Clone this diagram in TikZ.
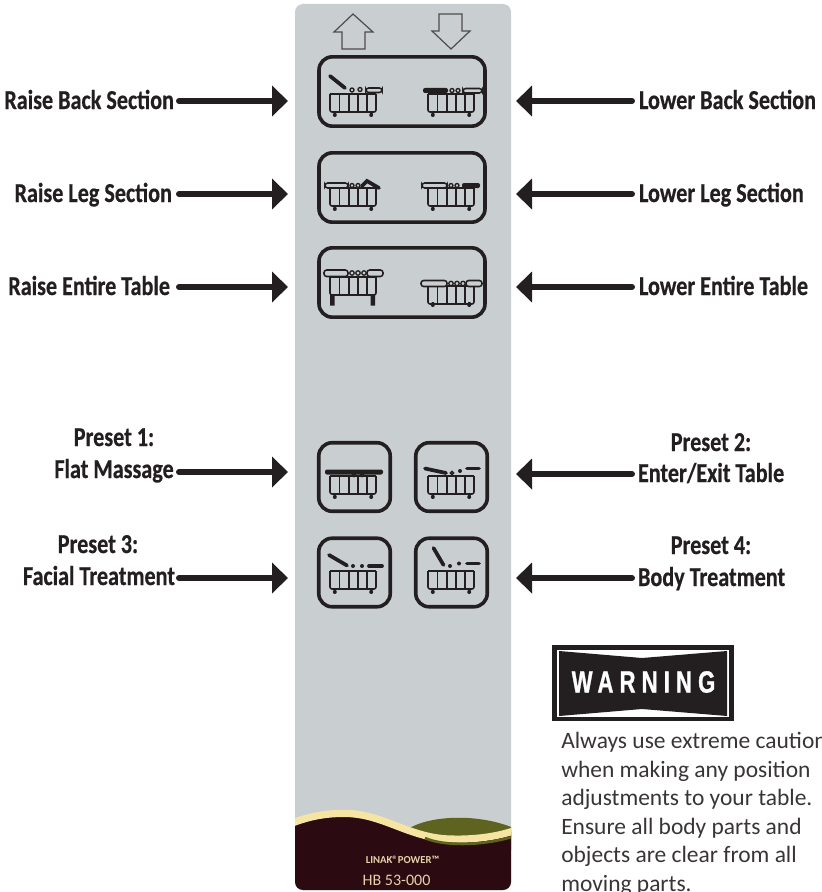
\documentclass[tikz,border=0pt]{standalone}
\usepackage{fontspec}
\setmainfont{Carlito}
\newfontfamily\labelfont[FakeStretch=0.81,FakeBold=0.5]{Carlito}
\newfontfamily\warnfont[FakeStretch=0.72,LetterSpace=20,FakeBold=1]{Liberation Sans}
\usetikzlibrary{arrows.meta}
\definecolor{panelgray}{HTML}{C9CED1}
\definecolor{ink}{HTML}{231F20}
\definecolor{burgundy}{HTML}{2B0A12}
\definecolor{cream}{HTML}{F6E4A2}
\definecolor{olive}{HTML}{5E6420}
\definecolor{tan}{HTML}{E6D2A6}
\tikzset{
	lbl/.style={font=\labelfont\bfseries\fontsize{20.5}{22}\selectfont, text=ink, text height=12pt, text depth=0pt, inner ysep=0pt, outer sep=0pt},
	pointer/.style={draw=ink, line width=4.5pt, line cap=round, -{Triangle[length=12pt,width=22.5pt]}},
	btn/.style={draw=ink, line width=2.7pt, rounded corners=10pt, inner sep=0pt},
	btnwide/.style={btn, minimum width=124.5pt, minimum height=52pt},
	btnsmall/.style={btn, minimum width=53.6pt, minimum height=51.4pt},
	updown/.style={draw=ink!80, line width=0.9pt},
	bedline/.style={draw=ink, line width=1.15pt},
	padw/.style={draw=ink, fill=panelgray, line width=1.15pt, rounded corners=2pt},
	padb/.style={fill=ink, rounded corners=1.5pt},
	seg/.style={draw=ink, line width=2.8pt, line cap=round},
	joint/.style={draw=ink, line width=1pt},
}
% table base, y is the top of the frame
\newcommand{\bedframe}[2]{
	\begin{scope}[shift={(#1,#2)}]
		\draw[bedline, rounded corners=1.5pt] (0,0) -- (0,18) -- (46,18) -- (46,0);
		\draw[bedline] (0,0) -- (46,0);
		\draw[bedline] (9.5,0) -- (9.5,18) (19,0) -- (19,18) (28,0) -- (28,18) (37,0) -- (37,18);
	\end{scope}
}
\newcommand{\bedwheels}[2]{
	\begin{scope}[shift={(#1,#2)}]
		\fill[ink] (3.5,18) rectangle (6,21) (40,18) rectangle (42.5,21);
		\fill[ink] (4.8,21) circle[radius=2] (41.2,21) circle[radius=2];
	\end{scope}
}

\begin{document}
\begin{tikzpicture}[x=0.75pt,y=-0.75pt]
	\useasboundingbox (0,0) rectangle (821,892);
	\clip (0,0) rectangle (821,892);

	% panel
	\fill[panelgray] (295,4) [rounded corners=6pt] -- (511,4) -- (511,890) -- (295,890) -- cycle;
	\begin{scope}
		\clip[rounded corners=6pt] (295,4) -- (511,4) -- (511,890) -- (295,890) -- cycle;
		\fill[olive] (408,829) .. controls (430,815) and (480,813) .. (516,829) -- (516,850) -- (440,850) -- cycle;
		\draw[cream, fill=burgundy, line width=5.4pt] (285,826) .. controls (310,815) and (330,813) .. (348,813.5) .. controls (385,815) and (410,838) .. (450,839) .. controls (480,840) and (505,835) .. (521,828) -- (521,900) -- (285,900) -- cycle;
		\draw[olive, line width=2pt] (425,838) .. controls (442,846) and (485,847) .. (521,834);
	\end{scope}
	\node[text=tan, font=\bfseries\fontsize{8}{9}\selectfont, inner sep=0pt] (model) at (402.5,860) {LINAK®POWER™};
	\node[text=tan, font=\fontsize{12}{14}\selectfont, inner sep=0pt] (code) at (396.5,880) {HB 53-000};

	% up and down
	\draw[updown] (353,14) -- (373,32) -- (365,32) -- (365,49) -- (342,49) -- (342,32) -- (334,32) -- cycle;
	\draw[updown] (439,14) -- (462,14) -- (462,31) -- (470,31) -- (451,49) -- (432,31) -- (439,31) -- cycle;

	% buttons
	\node[btnwide] (backbtn) at (402,91.5) {};
	\node[btnwide] (legbtn) at (402,187.5) {};
	\node[btnwide] (entirebtn) at (402,282.5) {};
	\node[btnsmall] (flatbtn) at (354.5,477) {};
	\node[btnsmall] (enterbtn) at (451.5,477) {};
	\node[btnsmall] (facialbtn) at (354.5,572.5) {};
	\node[btnsmall] (bodybtn) at (451.5,572.5) {};

	% raise back
	\bedframe{330}{94}
	\bedwheels{330}{94}
	\draw[seg] (330,76) -- (345,88);
	\draw[joint] (352,90) circle[radius=2] (360,89.5) circle[radius=2];
	\draw[padw] (366,88) rectangle (382,92.5);
	% lower back
	\bedframe{428}{94}
	\bedwheels{428}{94}
	\fill[padb] (423,88) rectangle (448,93);
	\draw[joint] (452,90.5) circle[radius=2] (458,90.5) circle[radius=2];
	\draw[padw] (463,88.5) rectangle (482,93);

	% raise leg
	\bedframe{330}{188}
	\bedwheels{330}{188}
	\draw[padw] (325,183) rectangle (348,188);
	\draw[joint] (352,185.5) circle[radius=2] (358,185.5) circle[radius=2];
	\draw[seg] (362,186) -- (367,181) -- (379,188);
	% lower leg
	\bedframe{428}{188}
	\bedwheels{428}{188}
	\draw[padw] (422,183) rectangle (447,188);
	\draw[joint] (451,185.5) circle[radius=2] (457,185.5) circle[radius=2];
	\fill[padb] (462,183) rectangle (480,188);

	% raise entire
	\bedframe{330}{277}
	\fill[ink] (330,295) rectangle (334.5,305.5) (370.5,295) rectangle (375,305.5);
	\draw[padw] (324,270) rectangle (348,276.5);
	\draw[joint] (352,273) circle[radius=2.2] (358,273) circle[radius=2.2] (364,273) circle[radius=2.2];
	\draw[padw] (367,270) rectangle (383,276.5);
	% lower entire
	\bedframe{428}{286}
	\bedwheels{428}{284}
	\draw[padw] (421,280.5) rectangle (447,286.5);
	\draw[joint] (451,283.5) circle[radius=2.2] (457,283.5) circle[radius=2.2] (463,283.5) circle[radius=2.2];
	\draw[padw] (466,280.5) rectangle (482,286.5);

	% flat
	\bedframe{330}{476}
	\bedwheels{330}{476}
	\fill[padb] (325,469.5) rectangle (383,474.5);
	\draw[joint] (354,475) circle[radius=1.6] (362,475) circle[radius=1.6];
	% enter and exit
	\bedframe{428}{476}
	\bedwheels{428}{476}
	\draw[seg] (425,468.5) -- (446,473);
	\draw[joint] (452,473) circle[radius=1.6];
	\fill[ink] (460,471) circle[radius=2];
	\draw[seg] (467,468.5) -- (479,468.5);

	% facial
	\bedframe{330}{571}
	\bedwheels{330}{571}
	\draw[seg] (329,555) -- (347,565.5);
	\fill[ink] (353,566) circle[radius=2] (362,566) circle[radius=2];
	\draw[seg] (369,566) -- (382,566);
	% body
	\bedframe{428}{571}
	\bedwheels{428}{571}
	\draw[seg] (433.5,548) -- (443.5,565);
	\fill[ink] (450,566) circle[radius=2] (459,563.5) circle[radius=2];
	\draw[seg] (467,563.5) -- (479,563.5);

	% tips of the arrows
	\coordinate (tipa) at (288,101);
	\coordinate (tipb) at (288,194);
	\coordinate (tipc) at (288,287);
	\coordinate (tipd) at (288,472);
	\coordinate (tipe) at (288,578);
	\coordinate (tipf) at (516,101);
	\coordinate (tipg) at (516,194);
	\coordinate (tiph) at (516,287);
	\coordinate (tipi) at (516,474);
	\coordinate (tipj) at (516,578);

	% labels on the left
	\node[lbl, anchor=east, inner xsep=3.75pt] (raiseback) at (179,101) {Raise Back Section};
	\node[lbl, anchor=east, inner xsep=5.25pt] (raiseleg) at (179,194) {Raise Leg Section};
	\node[lbl, anchor=east, inner xsep=6.75pt] (raiseentire) at (179,287) {Raise Entire Table};
	\node[lbl, anchor=east, inner xsep=4pt] (flat) at (179,470) {Flat Massage};
	\node[lbl] (preseta) at (114,438) {Preset 1:};
	\node[lbl, anchor=east, inner xsep=3pt] (facial) at (179,577) {Facial Treatment};
	\node[lbl] (presetc) at (98,545) {Preset 3:};

	% labels on the right
	\node[lbl, anchor=west, inner xsep=5.25pt] (lowerback) at (632,101) {Lower Back Section};
	\node[lbl, anchor=west, inner xsep=5.25pt] (lowerleg) at (632,194) {Lower Leg Section};
	\node[lbl, anchor=west, inner xsep=5.25pt] (lowerentire) at (632,287) {Lower Entire Table};
	\node[lbl, anchor=west, inner xsep=4.5pt] (enter) at (632,474) {Enter/Exit Table};
	\node[lbl] (presetb) at (711,443) {Preset 2:};
	\node[lbl, anchor=west, inner xsep=4.5pt] (body) at (632,578) {Body Treatment};
	\node[lbl] (presetd) at (711,546) {Preset 4:};

	\draw[pointer] (raiseback.east) -- (tipa);
	\draw[pointer] (raiseleg.east) -- (tipb);
	\draw[pointer] (raiseentire.east) -- (tipc);
	\draw[pointer] (flat.east |- tipd) -- (tipd);
	\draw[pointer] (facial.east |- tipe) -- (tipe);
	\draw[pointer] (lowerback.west) -- (tipf);
	\draw[pointer] (lowerleg.west) -- (tipg);
	\draw[pointer] (lowerentire.west) -- (tiph);
	\draw[pointer] (enter.west) -- (tipi);
	\draw[pointer] (body.west) -- (tipj);

	% warning
	\fill[ink] (552,645) rectangle (734,721);
	\fill[white] (557,650) rectangle (729,717);
	\fill[ink] (559,651) -- (642,658) -- (727,651) -- (727,716) -- (642,709) -- (559,716) -- cycle;
	\node[font=\warnfont\bfseries\fontsize{23}{25}\selectfont, text=white, inner sep=0pt] (warnhead) at (643.5,682) {WARNING};
	\node[anchor=base west, align=left, inner sep=0pt, text=ink!90, font=\fontsize{17.6}{21.4}\selectfont] (warnbody) at (561,891.5) {Always use extreme caution\\when making any position\\adjustments to your table.\\Ensure all body parts and\\objects are clear from all\\moving parts.};
\end{tikzpicture}
\end{document}
